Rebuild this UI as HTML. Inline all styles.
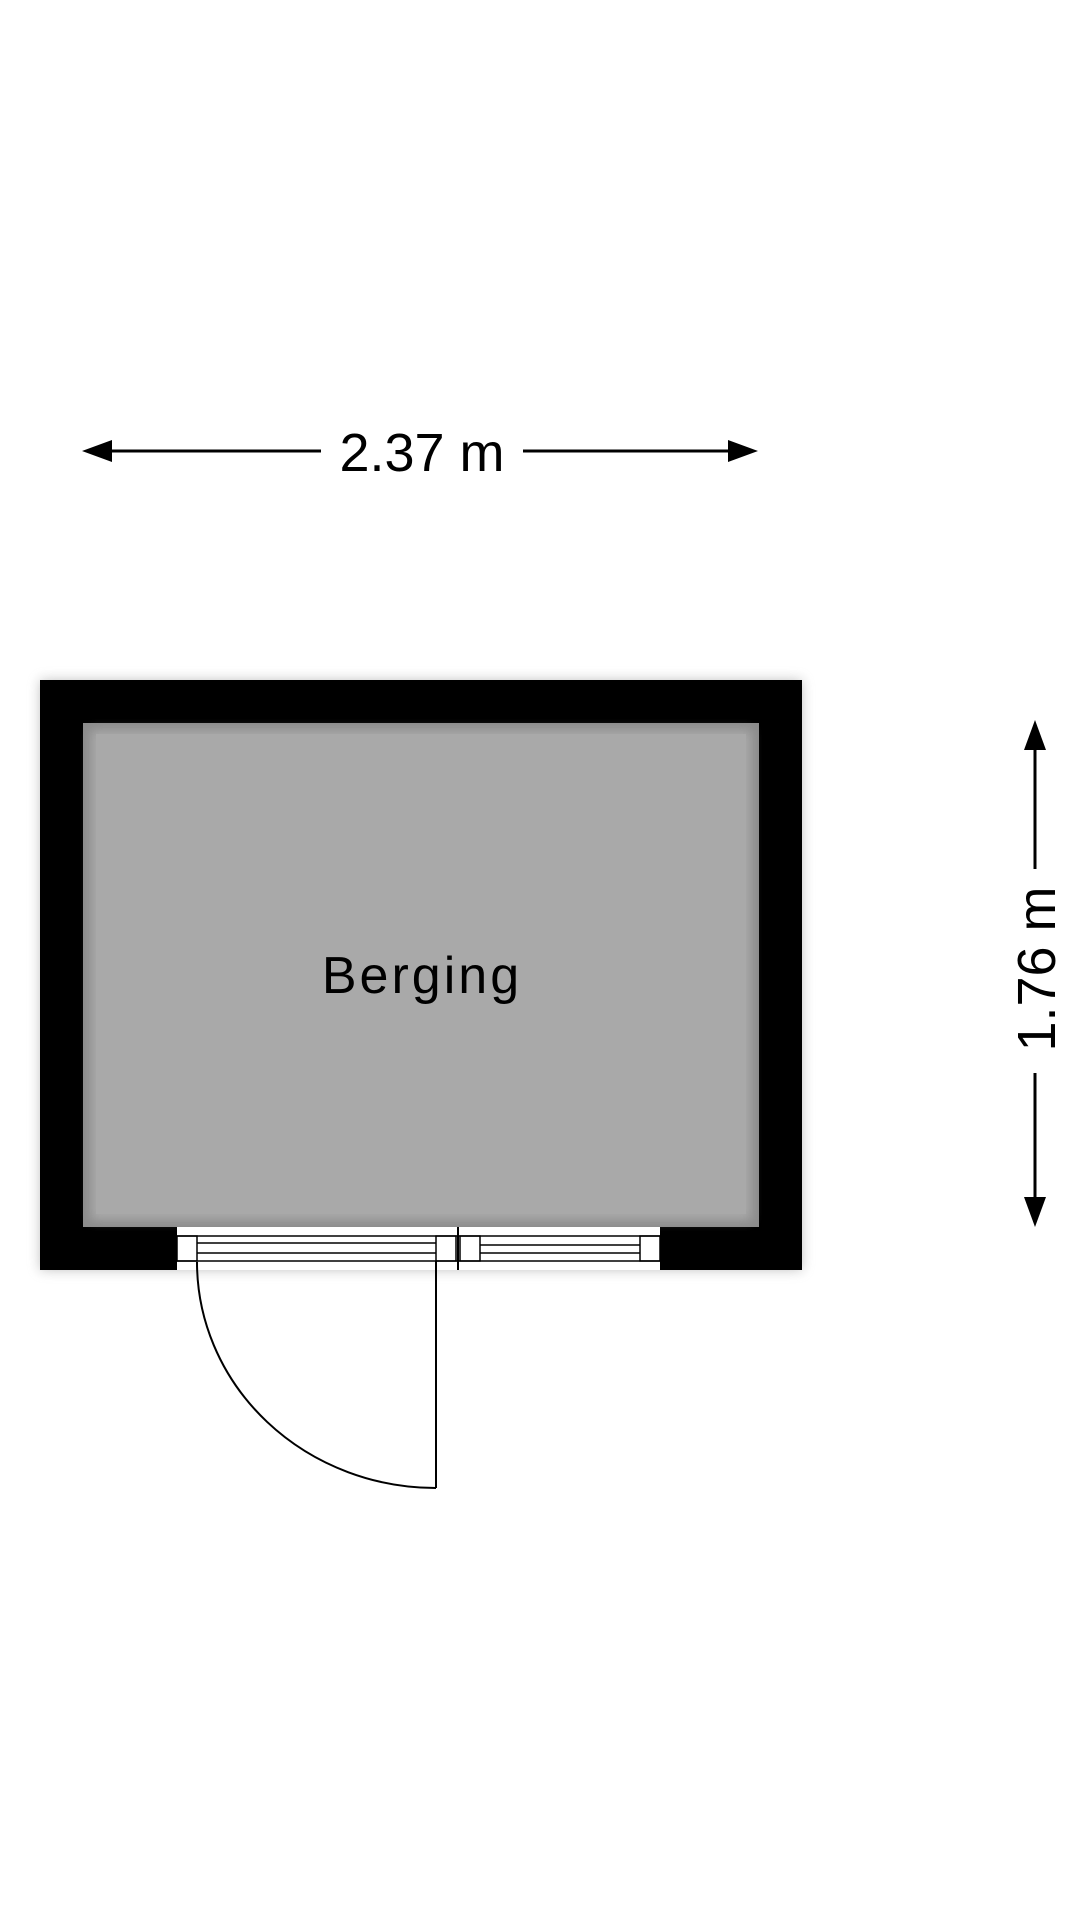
<!DOCTYPE html>
<html><head><meta charset="utf-8"><style>
html,body{margin:0;padding:0;background:#fff;width:1080px;height:1920px;overflow:hidden}
</style></head><body>
<svg width="1080" height="1920" viewBox="0 0 1080 1920" xmlns="http://www.w3.org/2000/svg">
<defs>
<filter id="sh" x="-10%" y="-10%" width="120%" height="120%"><feGaussianBlur stdDeviation="6"/></filter>
<filter id="ish" x="-5%" y="-5%" width="110%" height="110%"><feGaussianBlur stdDeviation="5"/></filter>
</defs>
<line x1="95" y1="451" x2="321" y2="451" stroke="#000" stroke-width="3"/>
<line x1="523" y1="451" x2="745" y2="451" stroke="#000" stroke-width="3"/>
<polygon points="82,451 112,440 112,462" fill="#000"/>
<polygon points="758,451 728,440 728,462" fill="#000"/>
<text x="422" y="471" font-family="Liberation Sans, sans-serif" font-size="54" text-anchor="middle" fill="#000">2.37 m</text>
<rect x="40" y="680" width="762" height="590" fill="#888" filter="url(#sh)" opacity="0.5"/>
<rect x="40" y="680" width="762" height="590" fill="#000"/>
<rect x="83" y="723" width="676" height="504" fill="#8c8c8c"/>
<rect x="91" y="730" width="660" height="490" fill="#a9a9a9" filter="url(#ish)"/>
<rect x="96" y="734" width="650" height="480" fill="#a9a9a9"/>
<rect x="177" y="1227" width="483" height="43" fill="#fff"/>
<g stroke="#000" stroke-width="1.5" fill="none">
<line x1="177" y1="1236" x2="660" y2="1236"/>
<line x1="177" y1="1261" x2="660" y2="1261"/>
<rect x="177" y="1236" width="20" height="25"/>
<rect x="436" y="1236" width="20" height="25"/>
<line x1="197" y1="1243" x2="436" y2="1243"/>
<line x1="197" y1="1253" x2="436" y2="1253"/>
<rect x="460" y="1236" width="20" height="25"/>
<rect x="640" y="1236" width="20" height="25"/>
<line x1="480" y1="1245" x2="640" y2="1245"/>
<line x1="480" y1="1253" x2="640" y2="1253"/>
</g>
<line x1="458" y1="1227" x2="458" y2="1270" stroke="#000" stroke-width="2"/>
<line x1="436" y1="1261" x2="436" y2="1488" stroke="#000" stroke-width="2"/>
<path d="M197,1262 A239,226 0 0,0 436,1488" fill="none" stroke="#000" stroke-width="2"/>
<text x="422" y="993" font-family="Liberation Sans, sans-serif" font-size="52" letter-spacing="3" text-anchor="middle" fill="#000">Berging</text>
<line x1="1035" y1="735" x2="1035" y2="869" stroke="#000" stroke-width="3"/>
<line x1="1035" y1="1073" x2="1035" y2="1212" stroke="#000" stroke-width="3"/>
<polygon points="1035,720 1024,750 1046,750" fill="#000"/>
<polygon points="1035,1227 1024,1197 1046,1197" fill="#000"/>
<text x="0" y="0" transform="translate(1055,969) rotate(-90)" font-family="Liberation Sans, sans-serif" font-size="54" text-anchor="middle" fill="#000">1.76 m</text>
</svg>
</body></html>
